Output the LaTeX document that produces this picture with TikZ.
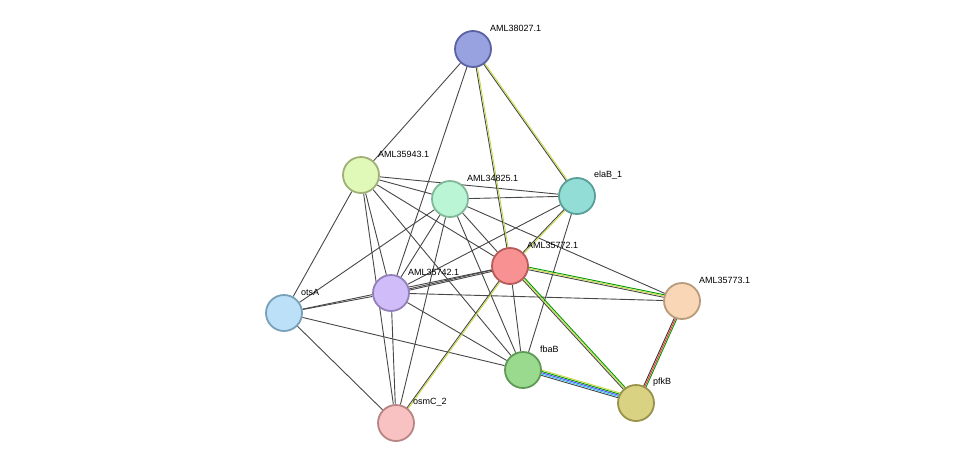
\documentclass[tikz,border=0pt]{standalone}
\usepackage{fontspec}
\setmainfont{Liberation Sans}
\usetikzlibrary{calc,backgrounds}
\newcommand\medge[3]{%
 \foreach \cc [count=\i] in {#3} {
  \path let \p1=($(#2.center)-(#1.center)$), \n1={atan2(\y1,\x1)+90} in
   [draw=\cc, line width=0.9pt, transform canvas={shift={(\n1:{(\i-1)*1.3pt})}}] (#1.center)--(#2.center);
 }}
\definecolor{fa}{HTML}{98A2E0}\definecolor{sa}{HTML}{5A62A2}
\definecolor{fb}{HTML}{E0F8B8}\definecolor{sb}{HTML}{A0B078}
\definecolor{fc}{HTML}{BAF5D6}\definecolor{sc}{HTML}{82B898}
\definecolor{fd}{HTML}{92DED6}\definecolor{sd}{HTML}{5A9E98}
\definecolor{ff}{HTML}{F89292}\definecolor{sf}{HTML}{B85A5A}
\definecolor{fg}{HTML}{D0BCF8}\definecolor{sg}{HTML}{9280B8}
\definecolor{fh}{HTML}{BCE0F8}\definecolor{sh}{HTML}{78A0B8}
\definecolor{fi}{HTML}{F9D6B6}\definecolor{si}{HTML}{B89A7C}
\definecolor{fj}{HTML}{9ADA8E}\definecolor{sj}{HTML}{5E9A56}
\definecolor{fk}{HTML}{D8D282}\definecolor{sk}{HTML}{98924A}
\definecolor{fl}{HTML}{F8C2C2}\definecolor{sl}{HTML}{B88484}
\definecolor{yl}{HTML}{C8D840}
\begin{document}
\begin{tikzpicture}[x=1pt,y=-1pt,
  prot/.style={circle,minimum size=36pt,inner sep=0pt,line width=1.8pt},
  lab/.style={anchor=west,font=\fontsize{9}{10}\selectfont,inner sep=0pt},
  e/.style={draw=black!72,line width=0.9pt}]
\useasboundingbox (0,0) rectangle (975,469);
\node[prot,fill=fa,draw=sa] (a) at (473,49) {};
\node[prot,fill=fb,draw=sb] (b) at (361,175) {};
\node[prot,fill=fc,draw=sc] (c) at (450,199) {};
\node[prot,fill=fd,draw=sd] (d) at (577,196) {};
\node[prot,fill=ff,draw=sf] (f) at (510,266) {};
\node[prot,fill=fg,draw=sg] (g) at (391,293) {};
\node[prot,fill=fh,draw=sh] (h) at (284,313) {};
\node[prot,fill=fi,draw=si] (i) at (682,301) {};
\node[prot,fill=fj,draw=sj] (j) at (523,370) {};
\node[prot,fill=fk,draw=sk] (k) at (636,403) {};
\node[prot,fill=fl,draw=sl] (l) at (396,423) {};
\foreach \n/\t in {a/AML38027.1,b/AML35943.1,c/AML34825.1,d/elaB\_1,f/AML35772.1,g/AML35742.1,h/otsA,i/AML35773.1,j/fbaB,k/pfkB,l/osmC\_2}
  \node[lab] (t\n) at ($(\n)+(17,-21)$) {\t};
\begin{pgfonlayer}{background}
\foreach \u/\v in {a/b,a/g,b/c,b/d,b/f,b/h,b/g,b/l,b/j,c/d,c/g,c/h,c/l,c/j,c/i,c/f,d/g,d/j,f/j,g/h,g/l,g/j,g/i,h/j,h/l,h/f}
  \draw[e] (\u) -- (\v);
\medge{a}{f}{black!72,yl}
\medge{a}{d}{black!72,yl}
\medge{d}{f}{black!72,yl}
\medge{f}{l}{black!72,yl}
\medge{f}{g}{black!72,black!72}
\medge{f}{i}{black!72,yl,green!60!black}
\medge{f}{k}{black!72,yl,green!60!black}
\medge{j}{k}{black!72,cyan!80,blue!70,green!60!black,yl}
\medge{i}{k}{black!80,red!80,green!60!black}
\end{pgfonlayer}
\end{tikzpicture}
\end{document}
